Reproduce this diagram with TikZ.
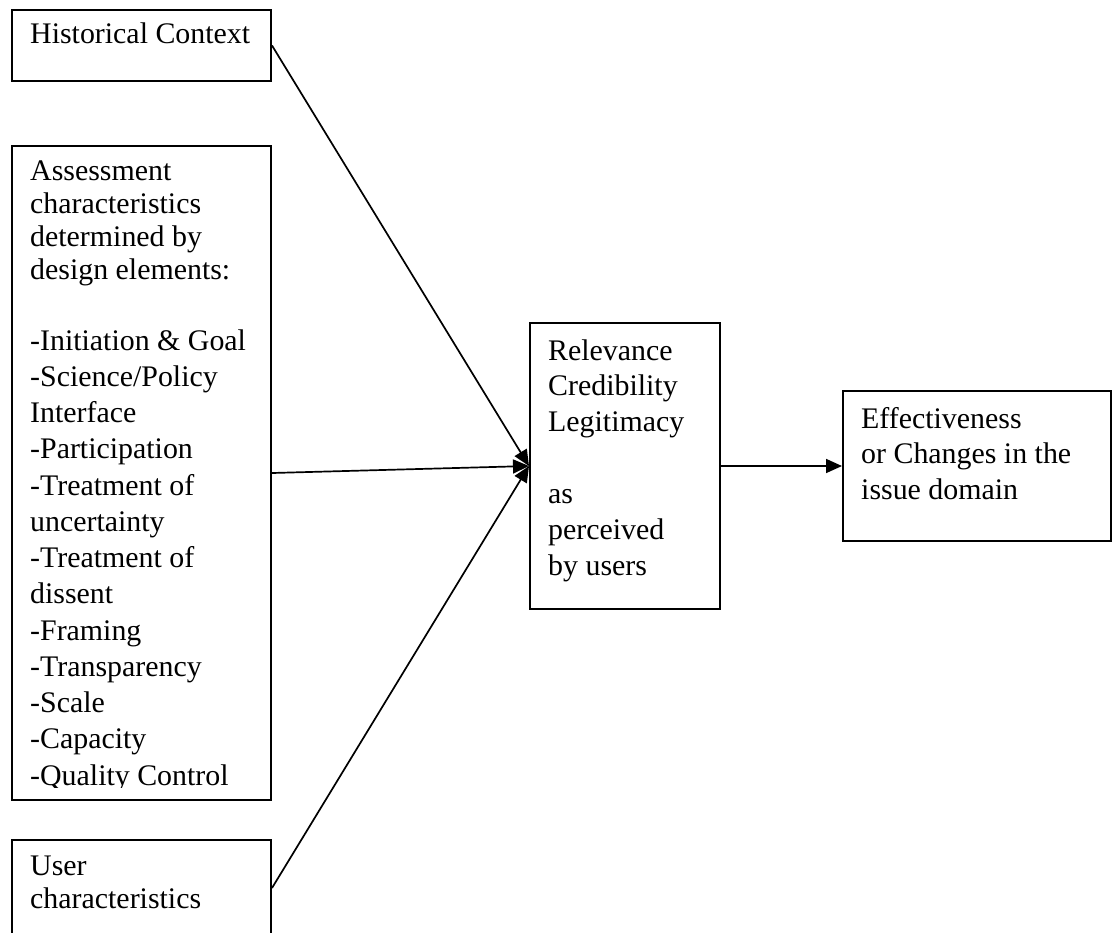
\documentclass[tikz,border=0pt]{standalone}
\usepackage{fontspec}
\setmainfont{Liberation Serif}
\usetikzlibrary{arrows.meta}

\tikzset{
  box/.style={draw, line width=2bp, inner sep=0pt, anchor=north west},
  boxtext/.style={anchor=base west, inner sep=0pt, font=\fontsize{30}{36}\selectfont},
  tight/.style={font=\fontsize{30}{33.4}\selectfont},
  loose/.style={font=\fontsize{30}{36.4}\selectfont},
  link/.style={line width=1.7bp, -{Triangle[length=16bp,width=14bp]}},
}
% a block of left-aligned lines whose baseline is the first line's
\newcommand\linesblock[1]{\begin{tabular}[t]{@{}l@{}}#1\end{tabular}}

\begin{document}
\begin{tikzpicture}[x=1bp,y=-1bp]
  \clip (0,0) rectangle (1112,933);
  \fill[white] (0,0) rectangle (1112,933);

  % frames
  \node[box, minimum width=259.5bp, minimum height=71bp]  (hist)   at (10.5,9)   {};
  \node[box, minimum width=259.5bp, minimum height=654bp] (assess) at (10.5,145) {};
  \node[box, minimum width=259.5bp, minimum height=96bp]  (user)   at (10.5,839) {};
  \node[box, minimum width=190bp,   minimum height=286bp] (mid)    at (529,322)  {};
  \node[box, minimum width=268bp,   minimum height=150bp] (eff)    at (842,390)  {};

  % texts
  \node[boxtext] (histtext) at (30,43) {Historical Context};
  \begin{scope}
    \clip (10,145) rectangle (270,787.5);
    \node[boxtext, tight] (assesshead) at (30,180) {\linesblock{%
      Assessment\\
      characteristics\\
      determined by\\
      design elements:}};
    \node[boxtext, loose] (assesslist) at (30,350) {\linesblock{%
      -Initiation \& Goal\\
      -Science/Policy\\
      Interface\\
      -Participation\\
      -Treatment of\\
      uncertainty\\
      -Treatment of\\
      dissent\\
      -Framing\\
      -Transparency\\
      -Scale\\
      -Capacity\\
      -Quality Control}};
  \end{scope}
  \node[boxtext, tight] (usertext) at (30,875) {\linesblock{User\\characteristics}};
  \node[boxtext] (midtext) at (548,360) {\linesblock{%
      Relevance\\
      Credibility\\
      Legitimacy\\
      \\
      as\\
      perceived\\
      by users}};
  \node[boxtext] (efftext) at (861,428) {\linesblock{%
      Effectiveness\\
      or Changes in the\\
      issue domain}};

  % connectors
  \draw[link] (hist.east)   -- (mid.west);
  \draw[link] (assess.east) -- (mid.west);
  \draw[link] (user.east)   -- (mid.west);
  \draw[link] (mid.east)    -- (eff.west);
\end{tikzpicture}
\end{document}
